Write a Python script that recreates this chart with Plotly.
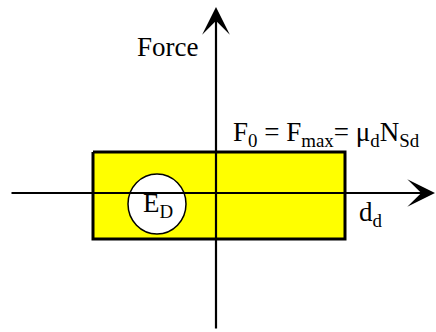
import plotly.graph_objects as go

# Rigid-plastic friction loop (displacement vs force), in drawing units with origin at axes crossing
loop_d = [-123, 129, 129, -123, -123]
loop_F = [41, 41, -46, -46, 41]
labels = {"force": "Force",
          "f0": "F<sub>0</sub> = F<sub>max</sub>= μ<sub>d</sub>N<sub>Sd</sub>",
          "ed": "E<sub>D</sub>",
          "dd": "d<sub>d</sub>"}

FONT = "Liberation Serif"

fig = go.Figure()
fig.add_trace(go.Scatter(x=loop_d, y=loop_F, mode="lines", fill="toself",
                         fillcolor="#ffff00", line=dict(color="black", width=3),
                         hoverinfo="skip", showlegend=False))

# axes with arrows
fig.add_annotation(x=219, y=0, ax=-206, ay=0, xref="x", yref="y", axref="x", ayref="y",
                   showarrow=True, arrowhead=3, arrowsize=2.1, arrowwidth=2.2,
                   arrowcolor="black", text="", standoff=0, font=dict(size=12))
fig.add_annotation(x=0, y=186, ax=0, ay=-137, xref="x", yref="y", axref="x", ayref="y",
                   showarrow=True, arrowhead=3, arrowsize=2.1, arrowwidth=2.2,
                   arrowcolor="black", text="", standoff=0, font=dict(size=12))

# circle E_D
fig.add_shape(type="circle", x0=-88, x1=-30, y0=-41, y1=19, xref="x", yref="y",
              fillcolor="white", line=dict(color="black", width=1.5))
fig.add_annotation(x=-58, y=-12, text=labels["ed"], showarrow=False,
                   font=dict(family=FONT, size=27, color="black"))

fig.add_annotation(x=-49, y=146, text=labels["force"], showarrow=False,
                   font=dict(family=FONT, size=27, color="black"))
fig.add_annotation(x=110, y=59, text=labels["f0"], showarrow=False,
                   font=dict(family=FONT, size=27, color="black"))
fig.add_annotation(x=155, y=-21, text=labels["dd"], showarrow=False,
                   font=dict(family=FONT, size=27, color="black"))

fig.update_xaxes(range=[-216, 220], visible=False, fixedrange=True)
fig.update_yaxes(range=[-139, 193], visible=False, fixedrange=True)
fig.update_layout(width=436, height=332, margin=dict(l=0, r=0, t=0, b=0),
                  paper_bgcolor="white", plot_bgcolor="white", showlegend=False)
fig.write_html("out.html", config={"displayModeBar": False},
               post_script="document.body.style.margin='0';")
